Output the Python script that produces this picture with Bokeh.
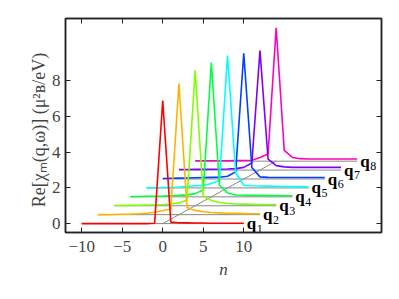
from bokeh.plotting import figure
from bokeh.models import LinearAxis, FixedTicker, Range1d, ColumnDataSource
from bokeh.core.properties import value
from bokeh.embed import file_html
from bokeh.resources import INLINE

# ---- data ----
d_vals = list(range(-10, 11))                      # n relative to each peak
n_shift = [0, 2, 4, 6, 8, 10, 12, 14]              # horizontal offset per q
y_shift = [0.0, 0.5, 1.0, 1.5, 2.0, 2.5, 3.0, 3.5] # vertical offset per q
q_names = ["1", "2", "3", "4", "5", "6", "7", "8"]
colors = ["#ff0000", "#ffb300", "#80ff00", "#00ff40",
          "#00ffff", "#0040ff", "#8000ff", "#ff00bf"]

q1 = [0, 0, 0, 0, 0, 0, 0, 0, 0, 0.02, 6.9, 0.08, 0.05, 0.04, 0.03, 0.03, 0.02, 0.02, 0.02, 0.02, 0.02]
q2 = [0, 0, 0.01, 0.02, 0.03, 0.05, 0.08, 0.14, 0.22, 0.32, 7.35, 0.4, 0.24, 0.16, 0.12, 0.1, 0.08, 0.07, 0.06, 0.05, 0.05]
q3 = [0.01, 0.02, 0.02, 0.03, 0.04, 0.05, 0.07, 0.1, 0.16, 0.32, 7.6, 0.55, 0.3, 0.18, 0.13, 0.1, 0.09, 0.08, 0.07, 0.07, 0.07]
q4 = [0.02, 0.02, 0.03, 0.03, 0.04, 0.06, 0.08, 0.11, 0.18, 0.38, 7.53, 0.65, 0.22, 0.1, 0.09, 0.08, 0.08, 0.07, 0.07, 0.06, 0.06]
q5 = [0.0, 0.01, 0.02, 0.03, 0.05, 0.08, 0.12, 0.14, 0.25, 0.42, 7.42, 0.85, 0.15, 0.12, 0.11, 0.1, 0.09, 0.08, 0.07, 0.07, 0.06]
q6 = [0.03, 0.04, 0.05, 0.06, 0.07, 0.08, 0.09, 0.1, 0.15, 0.4, 7.05, 0.65, 0.12, 0.09, 0.08, 0.08, 0.08, 0.08, 0.08, 0.08, 0.08]
q7 = [0.03, 0.03, 0.04, 0.04, 0.05, 0.05, 0.06, 0.08, 0.15, 0.4, 6.7, 0.62, 0.25, 0.18, 0.15, 0.15, 0.15, 0.15, 0.15, 0.15, 0.15]
q8 = [0.02, 0.02, 0.02, 0.02, 0.02, 0.03, 0.04, 0.05, 0.2, 0.4, 7.48, 0.6, 0.21, 0.14, 0.12, 0.12, 0.12, 0.12, 0.12, 0.12, 0.12]
curves = [q1, q2, q3, q4, q5, q6, q7, q8]

x_ticks = [-10, -5, 0, 5, 10]
y_ticks = [0, 2, 4, 6, 8]

FONT = "Liberation Serif"

p = figure(frame_width=316, frame_height=214, output_backend="svg",
           toolbar_location=None, x_range=Range1d(-12, 27), y_range=Range1d(-0.5, 11.5),
           min_border_left=65, min_border_top=18, min_border_right=10, min_border_bottom=55)
p.grid.visible = False
p.background_fill_color = "white"
p.border_fill_color = "white"
p.outline_line_color = "#222222"
p.outline_line_width = 1.5

# gray baselines and diagonal
for k in range(8):
    xs = [d + n_shift[k] for d in d_vals]
    p.line([xs[0], xs[-1]], [y_shift[k], y_shift[k]], line_color="#888888", line_width=1)
p.line(n_shift, y_shift, line_color="#888888", line_width=1)

# curves, last first so q1 is on top
for k in reversed(range(8)):
    xs = [d + n_shift[k] for d in d_vals]
    ys = [v + y_shift[k] for v in curves[k]]
    p.line(xs, ys, line_color=colors[k], line_width=1.6)

# labels
lab = ColumnDataSource(dict(
    x=[d_vals[-1] + n_shift[k] for k in range(8)],
    y=[y_shift[k] for k in range(8)],
    q=["q"] * 8,
    s=q_names,
))
p.text(x="x", y="y", text="q", source=lab, x_offset=3, y_offset=0,
       text_font=value(FONT), text_font_style="bold", text_font_size="17px",
       text_baseline="middle", text_color="black")
p.text(x="x", y="y", text="s", source=lab, x_offset=13, y_offset=5,
       text_font=value(FONT), text_font_size="12px",
       text_baseline="middle", text_color="black")

# axes styling
xa = p.xaxis[0]
ya = p.yaxis[0]
for ax in (xa, ya):
    ax.major_label_text_font = FONT
    ax.major_label_text_font_size = "17px"
    ax.axis_label_text_font = FONT
    ax.axis_label_text_font_size = "17px"
    ax.axis_label_text_font_style = "normal"
    ax.axis_line_color = "#222222"
    ax.axis_line_width = 1.5
    ax.major_tick_line_color = "#222222"
    ax.major_tick_in = 5
    ax.major_tick_out = 0
    ax.minor_tick_line_color = None
xa.ticker = FixedTicker(ticks=x_ticks)
ya.ticker = FixedTicker(ticks=y_ticks)
xa.major_label_overrides = {t: (("\u2212" + str(-t)) if t < 0 else str(t)) for t in x_ticks}
xa.major_label_standoff = 8
xa.axis_label = "n"
xa.axis_label_text_font_style = "italic"
xa.axis_label_standoff = 5
ya.major_label_standoff = 5
ya.axis_label = "Re[\u03c7\u2098(q,\u03c9)]   (\u03bc\u00b2\u0299/eV)"
ya.axis_label_text_font_size = "18px"
ya.axis_label_standoff = 0

for loc in ("above", "right"):
    ax = LinearAxis(ticker=FixedTicker(ticks=x_ticks if loc == "above" else y_ticks))
    ax.major_label_text_color = None
    ax.major_label_text_font_size = "1px"
    ax.major_label_standoff = 0
    ax.axis_line_color = "#222222"
    ax.axis_line_width = 1.5
    ax.major_tick_line_color = "#222222"
    ax.major_tick_in = 5
    ax.major_tick_out = 0
    ax.minor_tick_line_color = None
    p.add_layout(ax, loc)

open("out.html", "w").write(file_html(p, INLINE))
